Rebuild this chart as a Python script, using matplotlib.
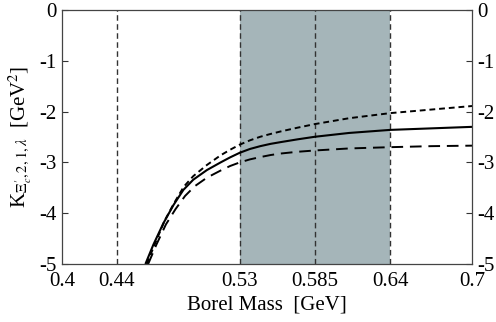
import matplotlib
matplotlib.use("Agg")
import matplotlib.pyplot as plt

plt.rcParams['font.family'] = ['Liberation Serif', 'DejaVu Serif']
plt.rcParams['mathtext.fontset'] = 'stix'

# Borel mass (GeV) and K values
m_central = [0.461, 0.4668, 0.4741, 0.4815, 0.4888, 0.496, 0.506, 0.516, 0.523, 0.530,
             0.5375, 0.545, 0.5525, 0.560, 0.5725, 0.585, 0.610, 0.640, 0.670, 0.700]
k_central = [-5.0, -4.62, -4.20, -3.84, -3.54, -3.34, -3.15, -3.00, -2.90, -2.81,
             -2.735, -2.68, -2.635, -2.60, -2.545, -2.495, -2.42, -2.36, -2.33, -2.30]

m_upper = [0.462, 0.468, 0.475, 0.482, 0.489, 0.496, 0.506, 0.516, 0.523, 0.530,
           0.5375, 0.545, 0.5525, 0.560, 0.5725, 0.585, 0.610, 0.640, 0.670, 0.700]
k_upper = [-5.0, -4.6, -4.15, -3.80, -3.48, -3.27, -3.05, -2.86, -2.75, -2.65,
           -2.565, -2.495, -2.44, -2.39, -2.315, -2.245, -2.13, -2.03, -1.96, -1.89]

m_lower = [0.463, 0.469, 0.476, 0.483, 0.490, 0.497, 0.506, 0.516, 0.523, 0.530,
           0.5375, 0.545, 0.5525, 0.560, 0.5725, 0.585, 0.610, 0.640, 0.670, 0.700]
k_lower = [-5.0, -4.62, -4.22, -3.92, -3.66, -3.47, -3.30, -3.16, -3.07, -3.00,
           -2.94, -2.895, -2.855, -2.825, -2.79, -2.765, -2.725, -2.70, -2.68, -2.67]

window = (0.53, 0.64)
vlines = [0.44, 0.53, 0.585, 0.64]
xticks = [0.4, 0.44, 0.53, 0.585, 0.64, 0.7]
xticklabels = ['0.4', '0.44', '0.53', '0.585', '0.64', '0.7']
yticks = [0, -1, -2, -3, -4, -5]

fig = plt.figure(figsize=(4.96, 3.22), dpi=100)
ax = fig.add_axes([0.125, 0.180, 0.827, 0.789])

ax.axvspan(*window, color='#a5b5b9', lw=0)
for v in vlines:
    ax.axvline(v, color='#333333', lw=1.0, ls=(0, (4, 2.5)))

ax.plot(m_central, k_central, color='black', lw=1.5, solid_capstyle='butt')
ax.plot(m_upper, k_upper, color='black', lw=1.4, ls=(0, (3, 2)))
ax.plot(m_lower, k_lower, color='black', lw=1.4, ls=(0, (6, 3.5)))

ax.set_xlim(0.4, 0.7)
ax.set_ylim(-5, 0)
ax.set_xticks(xticks)
ax.set_xticklabels(xticklabels)
ax.set_yticks(yticks)
ax.set_yticklabels([str(t) for t in yticks])
ax.tick_params(axis='x', length=0, labelsize=15, pad=6)
ax.tick_params(axis='y', direction='in', length=4, labelsize=15, pad=4,
               left=True, right=True, labelleft=True, labelright=True,
               color='#333333')
for s in ax.spines.values():
    s.set_color('#444444')
    s.set_linewidth(0.9)

ax.set_xlabel('Borel Mass  [GeV]', fontsize=15, labelpad=3)
ax.set_ylabel(r"K$_{\Xi_c^{\prime},2,1,\lambda}$  [GeV$^2$]", fontsize=15, labelpad=4)

fig.savefig('out.png', dpi=100)
